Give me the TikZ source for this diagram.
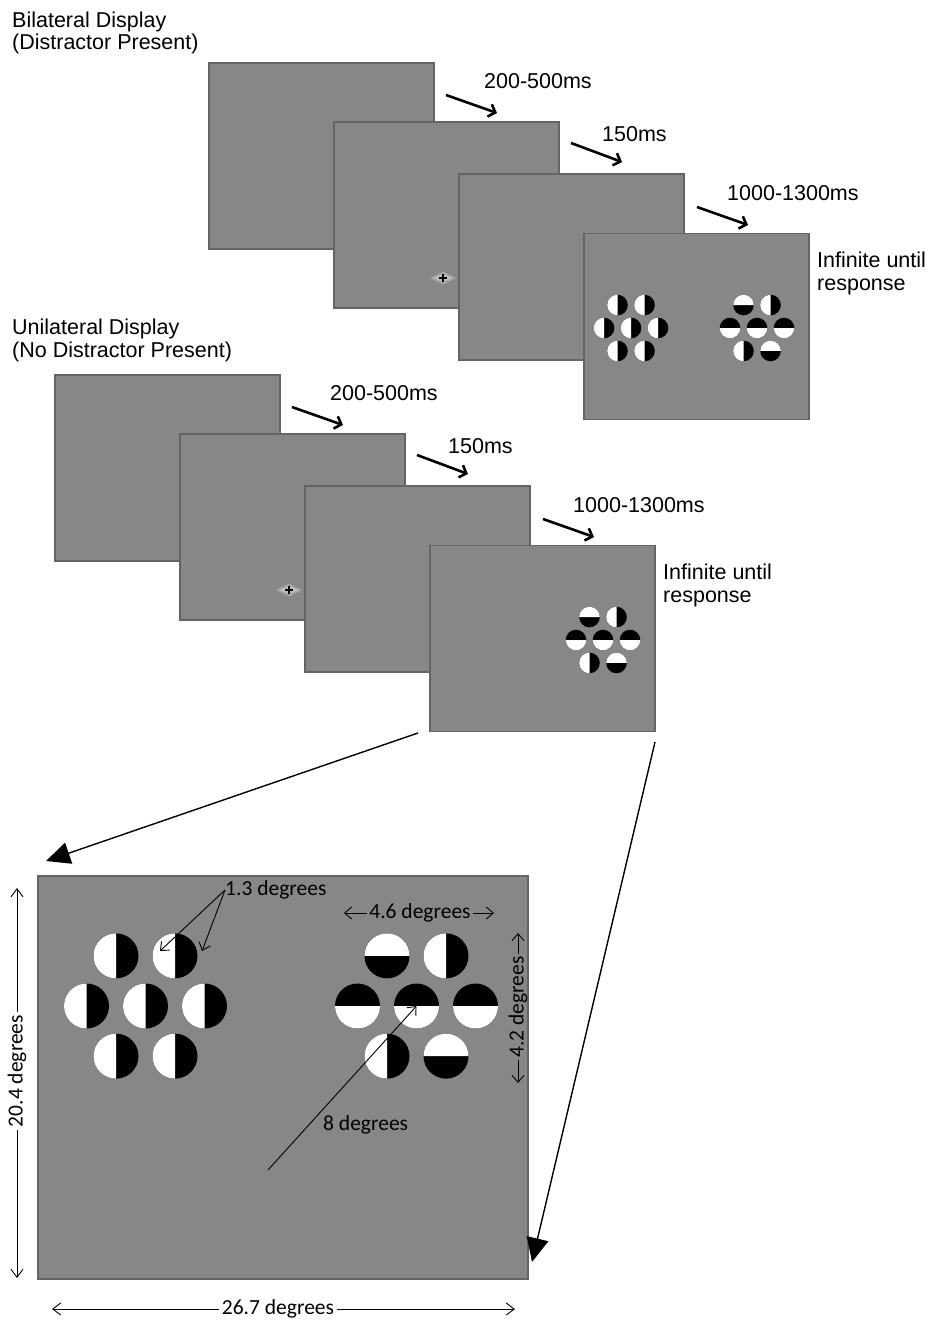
\documentclass[tikz,border=0pt]{standalone}
\usepackage{fontspec}
\setmainfont{Liberation Sans}
\newfontfamily\calfont{Carlito}
\usetikzlibrary{arrows.meta}

\definecolor{screengray}{RGB}{135,135,135}
\definecolor{edgegray}{RGB}{100,100,100}
\definecolor{glowgray}{RGB}{165,165,165}
\definecolor{glowlight}{RGB}{192,192,192}

\tikzset{
  screen/.style={draw=edgegray, line width=1.2pt, fill=screengray,
    minimum width=225pt, minimum height=186pt, inner sep=0pt, anchor=center},
  lab/.style={font=\fontsize{21.5}{24}\selectfont, inner sep=0pt, anchor=base west},
  note/.style={font=\calfont\fontsize{21.5}{24}\selectfont, inner sep=0pt},
  timearrow/.style={line width=2.6pt, -{Straight Barb[length=6pt,width=13pt]}},
  bigarrow/.style={line width=1.4pt, -{Triangle[length=24pt,width=22pt]}},
  dimarrow/.style={line width=0.9pt, -{Straight Barb[length=8pt,width=12pt]}},
  glypharrow/.style={line width=0.9pt, -{Straight Barb[length=7pt,width=12pt]}}
}

% disc layouts: offset x, offset y (in pitch units), angle where the white half starts
\def\plainset{-.5/-.85/90, .5/-.85/90, -1/0/90, 0/0/90, 1/0/90, -.5/.85/90, .5/.85/90}
\def\mixedset{-.5/-.85/180, .5/-.85/90, -1/0/0, 0/0/0, 1/0/0, -.5/.85/90, .5/.85/180}

% #1 centre, #2 pitch, #3 radius, #4 layout
\newcommand\hexset[4]{%
  \foreach \px/\py/\w in #4 {%
    \fill[black] (#1) ++(\px*#2,\py*#2) circle[radius=#3];
    \fill[white] (#1) ++(\px*#2,\py*#2) ++(\w:#3)
      arc[start angle=\w, end angle=\w+180, radius=#3] -- cycle;
  }}

% one trial sequence: four screens, fixation, timing arrows and labels
\newcommand\trialrow{%
  \node[screen] (s1) at (321.5,156) {};
  \node[screen] (s2) at (446.5,215) {};
  \node[screen] (s3) at (571.5,267) {};
  \node[screen] (s4) at (696.5,326.5) {};
  \fill[glowgray] (430,278) -- (443,271.5) -- (456,278) -- (443,284.5) -- cycle;
  \fill[glowlight] (434,278) -- (443,274) -- (452,278) -- (443,282) -- cycle;
  \draw[line width=1.6pt] (439,278) -- (447,278) (443,274) -- (443,282);
  \draw[timearrow] (446,95) -- (497,113);
  \draw[timearrow] (571,143) -- (622,162);
  \draw[timearrow] (697,207) -- (748,225);
  \node[lab] (t1) at (484,88.5) {200-500ms};
  \node[lab] (t2) at (602,141) {150ms};
  \node[lab] (t3) at (727,200) {1000-1300ms};
  \node[lab] (r1) at (817,267.5) {Infinite until};
  \node[lab] (r2) at (817,290) {response};
}

\begin{document}
\begin{tikzpicture}[x=1pt, y=-1pt]
\useasboundingbox (0,0) rectangle (934,1323);

% headings
\node[lab] (h1) at (12,27) {Bilateral Display};
\node[lab] (h2) at (12,49) {(Distractor Present)};
\node[lab] (h3) at (12,334) {Unilateral Display};
\node[lab] (h4) at (12,357) {(No Distractor Present)};

% bilateral sequence
\begin{scope}[name prefix=bi-]
  \trialrow
  \hexset{631,328}{27}{10.3}{\plainset}
  \hexset{757,328}{27}{10.3}{\mixedset}
\end{scope}

% unilateral sequence
\begin{scope}[name prefix=uni-, shift={(-154,312)}]
  \trialrow
  \hexset{757,328}{27}{10.3}{\mixedset}
\end{scope}

% enlarged display
\node[screen, minimum width=490pt, minimum height=403pt] (big) at (283,1077.5) {};
\hexset{145.5,1006}{59}{22.5}{\plainset}
\hexset{416.5,1006}{59}{22.5}{\mixedset}

% zoom arrows
\coordinate (z1) at (418,733);
\coordinate (z2) at (655,742);
\coordinate (e1) at (46,861);
\coordinate (e2) at (532,1262);
\draw[bigarrow] (z1) -- (e1);
\draw[bigarrow] (z2) -- (e2);

% measurements
\node[note, anchor=west] (n13) at (225,890) {1.3 degrees};
\coordinate (d1) at (160,951);
\coordinate (d2) at (202,951);
\draw[glypharrow] (n13.west) -- (d1);
\draw[glypharrow] (n13.west) -- (d2);

\node[note] (n46) at (420,913) {4.6 degrees};
\coordinate (l46) at (344,913);
\coordinate (r46) at (494,913);
\draw[glypharrow, shorten <=2pt] (n46.west) -- (l46);
\draw[glypharrow, shorten <=2pt] (n46.east) -- (r46);

\node[note, rotate=90] (n42) at (518,1007) {4.2 degrees};
\coordinate (t42) at (518,933);
\coordinate (b42) at (518,1083);
\draw[glypharrow, shorten <=2pt] (n42.east) -- (t42);
\draw[glypharrow, shorten <=2pt] (n42.west) -- (b42);

\coordinate (c8) at (268,1170);
\coordinate (m8) at (416.5,1006);
\draw[glypharrow] (c8) -- (m8);
\node[note, anchor=west] (n8) at (323,1125) {8 degrees};

\node[note, rotate=90] (n204) at (17,1071) {20.4 degrees};
\coordinate (t204) at (17,888);
\coordinate (b204) at (17,1278);
\draw[dimarrow, shorten <=3pt] (n204.east) -- (t204);
\draw[dimarrow, shorten <=3pt] (n204.west) -- (b204);

\node[note] (n267) at (278,1309) {26.7 degrees};
\coordinate (l267) at (52,1309);
\coordinate (r267) at (515,1309);
\draw[dimarrow, shorten <=3pt] (n267.west) -- (l267);
\draw[dimarrow, shorten <=3pt] (n267.east) -- (r267);
\end{tikzpicture}
\end{document}
